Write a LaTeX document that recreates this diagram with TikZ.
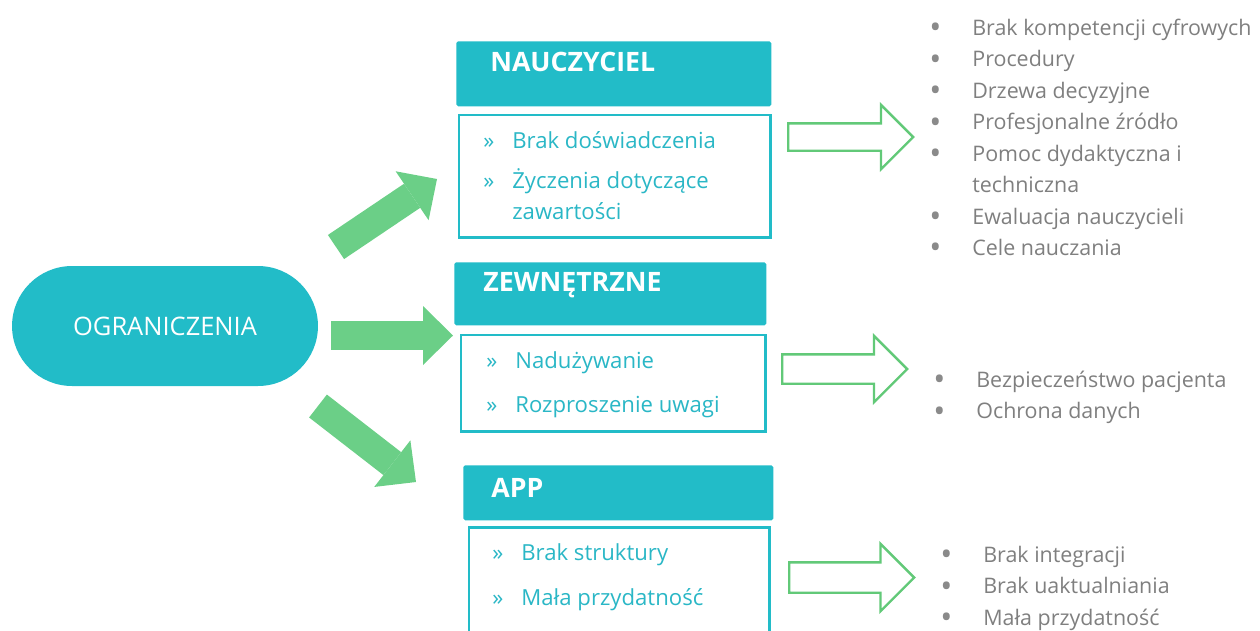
\documentclass[tikz,border=0pt]{standalone}
\usepackage{fontspec}
\setmainfont{Open Sans}
\usetikzlibrary{arrows.meta, positioning, shapes.arrows}
\definecolor{ogteal}{HTML}{22BCC8}
\definecolor{ogtext}{HTML}{2AB7C6}
\definecolor{oggreen}{HTML}{6BCF87}
\definecolor{ogline}{HTML}{62C978}
\definecolor{oggray}{HTML}{7F7F7F}
\definecolor{ogdot}{HTML}{8A8A8A}
\newcommand{\topstrut}{\rule{0pt}{0.5cm}}
\newcommand{\citem}[1]{\makebox[0.58cm][l]{»}#1}
\newcommand{\gitem}[1]{\makebox[0.86cm][l]{\textcolor{ogdot}{\raisebox{-0.3ex}{\scalebox{1.5}{\textbullet}}}}#1}

\begin{document}
\begin{tikzpicture}[x=0.02cm, y=-0.02cm,
  ogr/.style={rectangle, rounded corners=1.2cm, fill=ogteal, minimum width=6.12cm,
    minimum height=2.4cm, text=white, font=\fontsize{14.5}{16}\selectfont},
  hdr/.style={rectangle, rounded corners=1pt, fill=ogteal, anchor=north west, inner sep=0pt},
  title/.style={anchor=base west, inner sep=0pt, text=white, font=\fontsize{15.2}{17}\selectfont\bfseries},
  cbox/.style={rectangle, draw=ogteal, line width=1.7pt, fill=white, anchor=north west, inner sep=0pt},
  items/.style={anchor=north west, inner sep=0pt, align=left, text=ogtext,
    font=\fontsize{12.6}{18.1}\selectfont},
  glist/.style={anchor=north west, inner sep=0pt, align=left, text=oggray,
    font=\fontsize{12.2}{17.9}\selectfont},
  hollow/.style={single arrow, draw=ogline, line width=1.4pt, fill=white, inner sep=0pt,
    anchor=west, minimum height=2.5cm, single arrow head extend=0.37cm, single arrow head indent=0pt},
  bigarrow/.style={draw=oggreen, line width=0.58cm, -{Triangle[length=0.6cm, width=1.18cm, line width=0pt]}}]
  \clip (0,0) rectangle (1260,630);

  \node[ogr] (ogr) at (165,326) {OGRANICZENIA};

  % nauczyciel
  \node[hdr, minimum width=6.3cm, minimum height=1.3cm] (nau) at (456,41) {};
  \node[title] (nauT) at (490,71) {NAUCZYCIEL};
  \node[cbox, minimum width=6.24cm, minimum height=2.46cm] (nauBox) at (457.5,113.5) {};
  \node[items] (nauList) at (483,123)
    {\topstrut\citem{Brak doświadczenia}\\[0.16cm] \citem{Życzenia dotyczące}\\ \hspace*{0.58cm}zawartości};
  \node[hollow] (nauOut) at (787,137) {\rule{0pt}{0.5cm}};
  \node[glist] (nauGray) at (929,10)
    {\topstrut\gitem{Brak kompetencji cyfrowych}\\ \gitem{Procedury}\\ \gitem{Drzewa decyzyjne}\\
     \gitem{Profesjonalne źródło}\\ \gitem{Pomoc dydaktyczna i}\\ \hspace*{0.86cm}techniczna\\
     \gitem{Ewaluacja nauczycieli}\\ \gitem{Cele nauczania}};

  % zewnetrzne
  \node[hdr, minimum width=6.24cm, minimum height=1.26cm] (zew) at (454,262) {};
  \node[title] (zewT) at (483,291) {ZEWNĘTRZNE};
  \node[cbox, minimum width=6.1cm, minimum height=1.94cm] (zewBox) at (459.5,333.5) {};
  \node[items] (zewList) at (486,343)
    {\topstrut\citem{Nadużywanie}\\[0.24cm] \citem{Rozproszenie uwagi}};
  \node[hollow] (zewOut) at (781,369) {\rule{0pt}{0.54cm}};
  \node[glist] (zewGray) at (933,362)
    {\topstrut\gitem{Bezpieczeństwo pacjenta}\\ \gitem{Ochrona danych}};

  % app
  \node[hdr, minimum width=6.2cm, minimum height=1.1cm] (app) at (463,465) {};
  \node[title] (appT) at (491,497) {APP};
  \node[cbox, minimum width=6.02cm, minimum height=2.4cm] (appBox) at (467.5,525.5) {};
  \node[items] (appList) at (492,535)
    {\topstrut\citem{Brak struktury}\\[0.26cm] \citem{Mała przydatność}};
  \node[hollow] (appOut) at (788,577.5) {\rule{0pt}{0.56cm}};
  \node[glist] (appGray) at (940,537)
    {\topstrut\gitem{Brak integracji}\\ \gitem{Brak uaktualniania}\\ \gitem{Mała przydatność}};

  % green arrows
  \coordinate (a1s) at (336,247);
  \coordinate (a1e) at (437,179);
  \coordinate (a2s) at (331,335.5);
  \coordinate (a2e) at (453,335.5);
  \coordinate (a3s) at (318,406);
  \coordinate (a3e) at (416,482);
  \draw[bigarrow] (a1s) -- (a1e);
  \draw[bigarrow] (a2s) -- (a2e);
  \draw[bigarrow] (a3s) -- (a3e);
\end{tikzpicture}
\end{document}
